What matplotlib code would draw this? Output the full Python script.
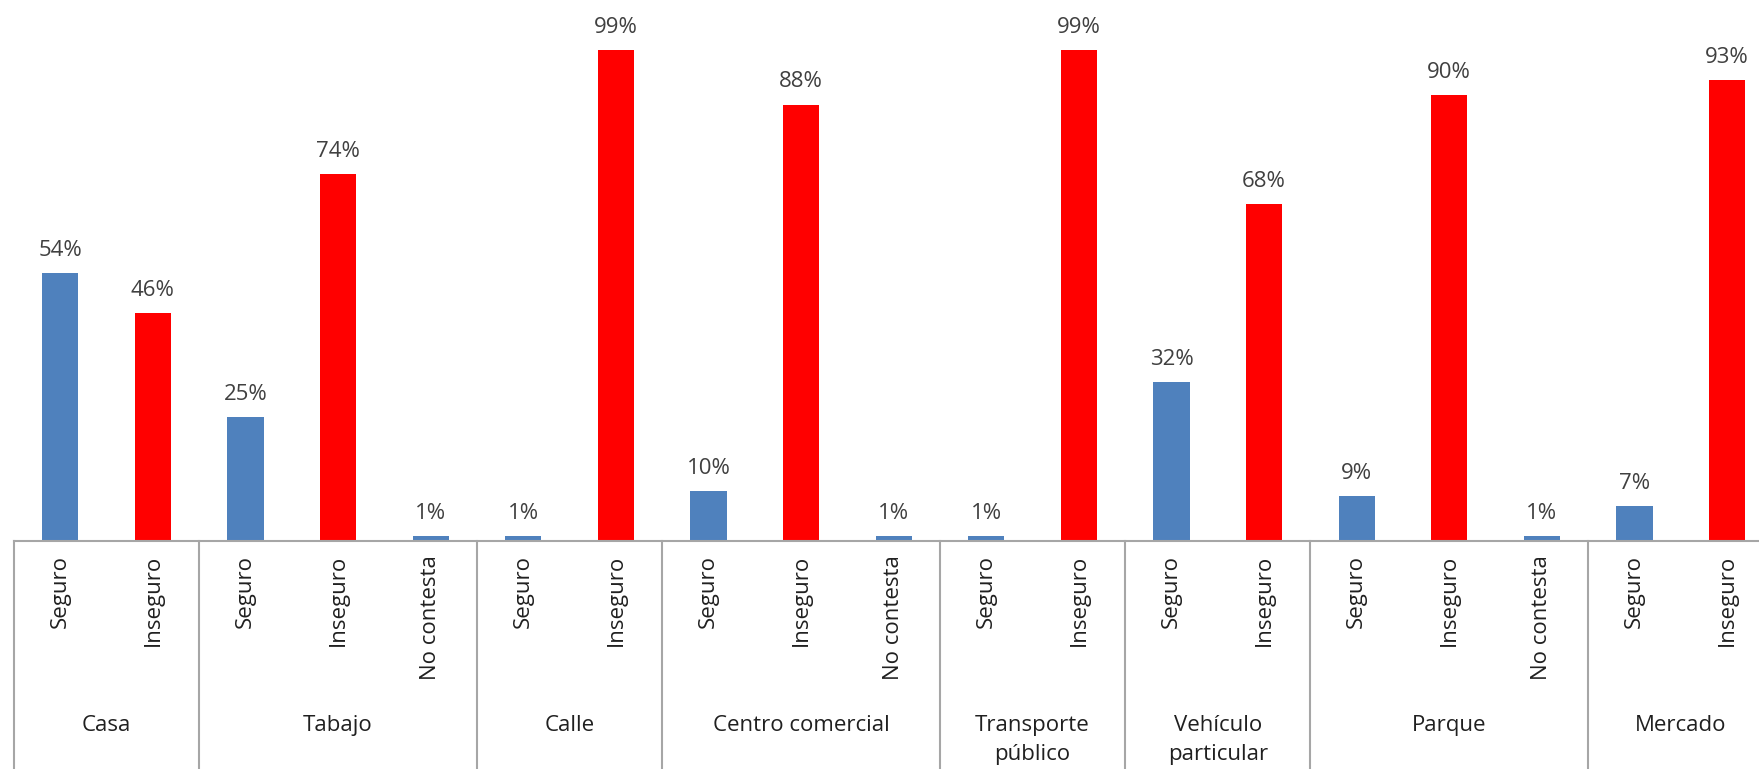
import matplotlib.pyplot as plt
import matplotlib.transforms as mtransforms

plt.rcParams['font.family'] = ['Open Sans', 'DejaVu Sans']

# Data (percent)
groups = ['Casa', 'Tabajo', 'Calle', 'Centro comercial', 'Transporte\npúblico',
          'Vehículo\nparticular', 'Parque', 'Mercado']
seguro = [54, 25, 1, 10, 1, 32, 9, 7]
inseguro = [46, 74, 99, 88, 99, 68, 90, 93]
no_contesta = [None, 1, None, 1, None, None, 1, None]

answer_labels = ['Seguro', 'Inseguro', 'No contesta']
answer_colors = ['#4F81BD', '#FF0000', '#4F81BD']

# Build one slot per bar
values, colors, labels, bounds = [], [], [], [0]
for s, ins, nc in zip(seguro, inseguro, no_contesta):
    vals = [s, ins] + ([nc] if nc is not None else [])
    for k, v in enumerate(vals):
        values.append(v)
        colors.append(answer_colors[k])
        labels.append(answer_labels[k])
    bounds.append(bounds[-1] + len(vals))

fig = plt.figure(figsize=(17.59, 7.69), dpi=100)
ax = fig.add_axes([14 / 1759, 1 - 541 / 769, 1759.4 / 1759, 495.5 / 769])

pos = [i + 0.5 for i in range(len(values))]
bars = ax.bar(pos, values, width=0.39, color=colors)

for b, v in zip(bars, values):
    ax.annotate(f'{v}%', (b.get_x() + b.get_width() / 2, v), xytext=(0, 9),
                textcoords='offset points', ha='center', va='bottom',
                fontsize=16, color='#404040')

ax.set_xlim(0, len(values))
ax.set_ylim(0, 100)
ax.set_yticks([])
ax.set_xticks(pos)
ax.set_xticklabels(labels, rotation=90, va='top', ha='center',
                   fontsize=16, color='#202020')
ax.tick_params(axis='x', length=0, pad=10)

for sp in ['top', 'right', 'left']:
    ax.spines[sp].set_visible(False)
ax.spines['bottom'].set_color('#A6A6A6')
ax.spines['bottom'].set_linewidth(1.5)

trans = mtransforms.blended_transform_factory(ax.transData, ax.transAxes)
for x in bounds:
    ax.plot([x, x], [0, -0.6], transform=trans, color='#A6A6A6',
            lw=1.5, clip_on=False)

for g, a, b in zip(groups, bounds[:-1], bounds[1:]):
    ax.annotate(g, ((a + b) / 2, 0), xycoords=trans, xytext=(0, -125),
                textcoords='offset points', ha='center', va='top',
                fontsize=16, color='#202020', linespacing=1.5)

fig.savefig('out.png', dpi=100)
